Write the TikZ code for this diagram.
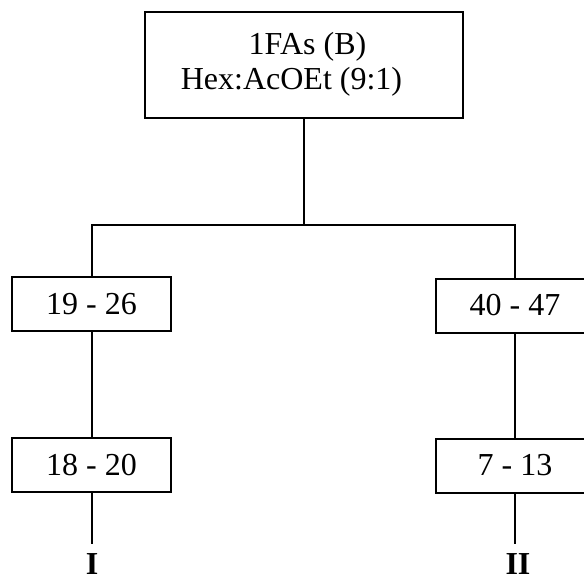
\documentclass[tikz,border=0pt]{standalone}
\usepackage{fontspec}
\setmainfont{Liberation Serif}
\begin{document}
\begin{tikzpicture}[x=0.5pt,y=-0.5pt,
  every node/.style={font=\fontsize{16}{17.5}\selectfont, inner sep=0pt},
  fracbox/.style={draw, line width=1pt, minimum width=79.5pt, minimum height=27pt},
  link/.style={line width=1pt},
  label/.style={font=\fontsize{16}{17.5}\selectfont\bfseries, anchor=base}]
  \useasboundingbox (0,0) rectangle (584,579);
  \clip (0,0) rectangle (584,579);

  % column and eluent
  \node[draw, line width=1pt, minimum width=159pt, minimum height=53pt] (top) at (304,65) {};
  \node[anchor=base] (t1) at (307.5,54) {1FAs (B)};
  \node[anchor=base] (t2) at (291.5,89) {Hex:AcOEt (9:1)};

  % fraction groups
  \node[fracbox] (L1) at (91.5,304) {19 - 26};
  \node[fracbox] (L2) at (91.5,465) {18 - 20};
  \node[fracbox] (R1) at (515,305.5) {40 - 47};
  \node[fracbox] (R2) at (515,465.5) {7 - 13};

  % final products
  \node[label] (pI) at (92,574) {I};
  \node[label] (pII) at (518,574) {II};

  \coordinate (jL) at (91.5,225);
  \coordinate (jR) at (515,225);
  \coordinate (eL) at (91.5,544);
  \coordinate (eR) at (515,544);

  \draw[link] (top.south) -- (top.south |- jL);
  \draw[link] (L1.north) -- (jL) -- (jR) -- (R1.north);
  \draw[link] (L1.south) -- (L2.north);
  \draw[link] (R1.south) -- (R2.north);
  \draw[link] (L2.south) -- (eL);
  \draw[link] (R2.south) -- (eR);
\end{tikzpicture}
\end{document}
